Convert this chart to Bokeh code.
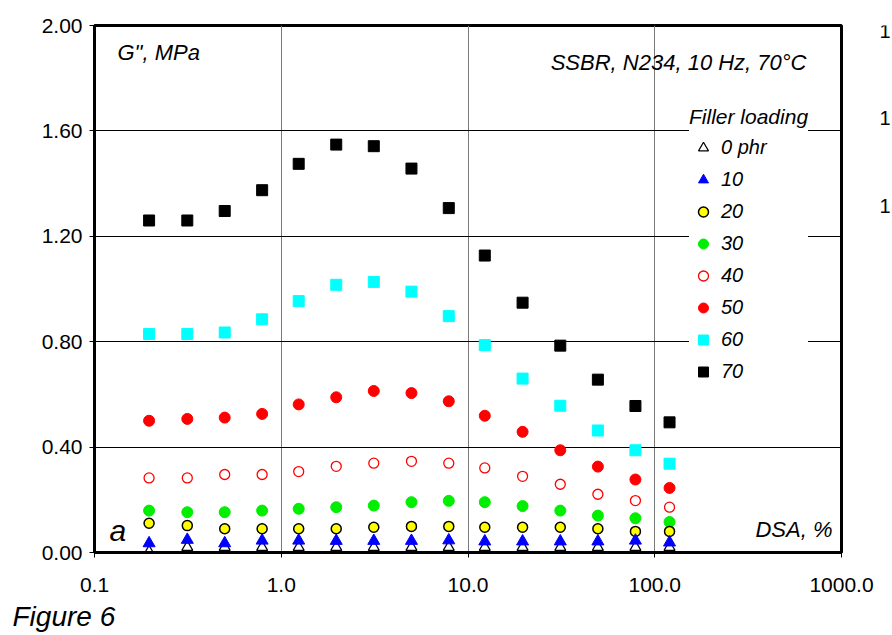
from bokeh.plotting import figure
from bokeh.models import (Legend, LegendItem, Label, FixedTicker, ColumnDataSource)
from bokeh.layouts import row, column
from bokeh.embed import file_html
from bokeh.resources import INLINE

# ---- data ----
dsa = [0.196, 0.314, 0.498, 0.79, 1.24, 1.97, 3.13, 4.98, 7.89, 12.3, 19.6, 31.2, 49.6, 78.8, 120.0]
g0 = [0.003, 0.020, 0.020, 0.020, 0.020, 0.020, 0.020, 0.020, 0.020, 0.020, 0.020, 0.020, 0.020, 0.020, 0.020]
g10 = [0.035, 0.048, 0.035, 0.045, 0.045, 0.044, 0.044, 0.044, 0.046, 0.042, 0.042, 0.042, 0.042, 0.045, 0.038]
g20 = [0.111, 0.102, 0.090, 0.090, 0.090, 0.090, 0.096, 0.099, 0.099, 0.096, 0.096, 0.096, 0.090, 0.080, 0.080]
g30 = [0.159, 0.153, 0.153, 0.159, 0.166, 0.172, 0.178, 0.191, 0.196, 0.191, 0.176, 0.159, 0.140, 0.130, 0.116]
g40 = [0.283, 0.283, 0.296, 0.296, 0.307, 0.327, 0.339, 0.346, 0.339, 0.321, 0.289, 0.259, 0.221, 0.197, 0.172]
g50 = [0.500, 0.507, 0.512, 0.526, 0.562, 0.589, 0.613, 0.605, 0.574, 0.519, 0.458, 0.388, 0.326, 0.277, 0.245]
g60 = [0.829, 0.829, 0.835, 0.885, 0.954, 1.016, 1.027, 0.990, 0.897, 0.787, 0.660, 0.557, 0.463, 0.388, 0.337]
g70 = [1.260, 1.260, 1.296, 1.375, 1.475, 1.548, 1.542, 1.457, 1.307, 1.127, 0.948, 0.785, 0.656, 0.556, 0.494]

legend_labels = ["0 phr", "10", "20", "30", "40", "50", "60", "70"]
x_ticks = [0.1, 1, 10, 100, 1000]
x_tick_labels = ["0.1", "1.0", "10.0", "100.0", "1000.0"]
y_ticks = [0.0, 0.4, 0.8, 1.2, 1.6, 2.0]
y_tick_labels = ["0.00", "0.40", "0.80", "1.20", "1.60", "2.00"]

FONT = "Liberation Sans"

p = figure(width=878, height=601, x_axis_type="log",
           x_range=(0.1, 1000), y_range=(0, 2.0),
           output_backend="svg", toolbar_location=None,
           min_border_left=94, min_border_right=37,
           min_border_top=25, min_border_bottom=49)
p.background_fill_color = "white"
p.border_fill_color = "white"
p.outline_line_color = "black"
p.outline_line_width = 3

# axes
p.xaxis.ticker = FixedTicker(ticks=x_ticks)
p.xaxis.major_label_overrides = {t: l for t, l in zip(x_ticks, x_tick_labels)}
p.yaxis.ticker = FixedTicker(ticks=y_ticks)
p.yaxis.major_label_overrides = {t: l for t, l in zip(y_ticks, y_tick_labels)}
for ax in (p.xaxis, p.yaxis):
    ax.axis_line_color = "black"
    ax.axis_line_width = 3
    ax.major_tick_in = 0
    ax.major_tick_out = 5
    ax.major_tick_line_color = "black"
    ax.minor_tick_line_color = None
    ax.major_label_text_font = FONT
    ax.major_label_text_font_size = "21px"
    ax.major_label_text_color = "black"
p.xaxis.major_label_standoff = 20
p.yaxis.major_label_standoff = 7

p.xgrid.grid_line_color = "#7a7a7a"
p.xgrid.grid_line_width = 1
p.ygrid.grid_line_color = "black"
p.ygrid.grid_line_width = 1

src = ColumnDataSource(dict(x=dsa, g0=g0, g10=g10, g20=g20, g30=g30,
                            g40=g40, g50=g50, g60=g60, g70=g70))

r70 = p.scatter("x", "g70", source=src, marker="square", size=11,
                fill_color="black", line_color="black")
r60 = p.scatter("x", "g60", source=src, marker="square", size=11,
                fill_color="#00ffff", line_color="#00ffff")
r50 = p.scatter("x", "g50", source=src, marker="circle", size=11,
                fill_color="#ff0000", line_color="#ff0000")
r40 = p.scatter("x", "g40", source=src, marker="circle", size=10,
                fill_color="white", line_color="#ff0000", line_width=1.3)
r30 = p.scatter("x", "g30", source=src, marker="circle", size=11,
                fill_color="#00ee00", line_color="#00ee00")
r20 = p.scatter("x", "g20", source=src, marker="circle", size=10,
                fill_color="#ffff00", line_color="black", line_width=1.5)
r0 = p.scatter("x", "g0", source=src, marker="triangle", size=11,
               fill_color="white", line_color="black", line_width=1.2)
r10 = p.scatter("x", "g10", source=src, marker="triangle", size=12,
                fill_color="#0000ff", line_color="#0000ff")

renderers = [r0, r10, r20, r30, r40, r50, r60, r70]
items = [LegendItem(label=l, renderers=[r]) for l, r in zip(legend_labels, renderers)]
legend = Legend(items=items, title="Filler loading", location=(595, 168),
                title_text_font=FONT, title_text_font_style="italic",
                title_text_font_size="21px", title_standoff=6,
                title_text_color="black",
                label_text_font=FONT, label_text_font_style="italic",
                label_text_font_size="20px", label_text_color="black",
                glyph_width=28, glyph_height=25, label_height=25,
                label_standoff=4, spacing=7, padding=5, margin=0,
                border_line_color=None, background_fill_color="white",
                background_fill_alpha=1.0)
p.add_layout(legend)

def lab(fig, text, x, y, size, align="left", style="italic"):
    fig.add_layout(Label(x=x, y=y, x_units="screen", y_units="screen", text=text,
                         text_font=FONT, text_font_size=size, text_font_style=style,
                         text_align=align, text_baseline="middle", text_color="black"))

lab(p, 'G", MPa', 23, 500, "22px")
lab(p, "SSBR, N234, 10 Hz, 70°C", 712, 490, "22px", align="right")
lab(p, "a", 15, 22, "30px")
lab(p, "DSA, %", 738, 23, "22px", align="right")

def blank(w, h):
    f = figure(width=w, height=h, x_range=(0, 1), y_range=(0, 1),
               output_backend="svg", toolbar_location=None,
               x_axis_location=None, y_axis_location=None, min_border=0)
    f.grid.visible = False
    f.outline_line_color = None
    f.background_fill_color = "white"
    f.border_fill_color = "white"
    return f

# strip at the right edge: tick labels of a neighbouring chart
pr = blank(14, 601)
for yy in (522, 435, 347):
    lab(pr, "1", 1, yy, "20px", style="normal")

# caption strip below
pb = blank(892, 34)
lab(pb, "Figure 6", 12, 19, "28px")

layout = column(row(p, pr), pb)
open("out.html", "w").write(file_html(layout, INLINE))
